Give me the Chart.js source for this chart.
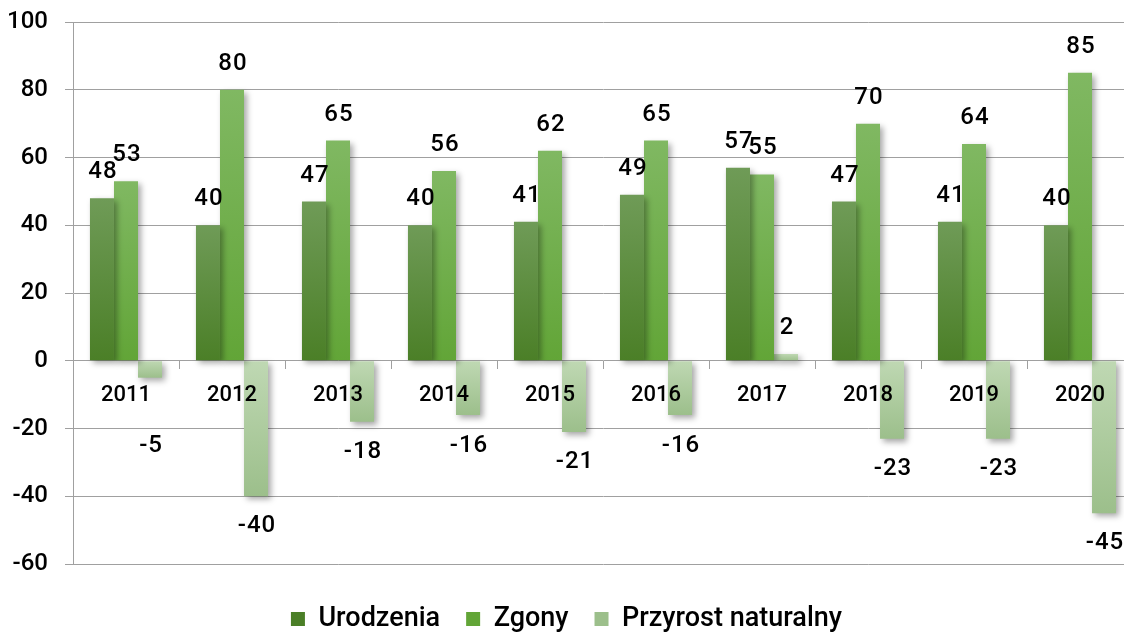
<!DOCTYPE html>
<html>
<head>
<meta charset="utf-8">
<script src="https://cdn.jsdelivr.net/npm/chart.js@4/dist/chart.umd.min.js"></script>
<style>
  html, body { margin: 0; padding: 0; background: #fff; overflow: hidden; }
  #wrap { width: 1140px; height: 632px; }
</style>
</head>
<body>
<div id="wrap"><canvas id="chart"></canvas></div>
<script>
const years = ['2011', '2012', '2013', '2014', '2015', '2016', '2017', '2018', '2019', '2020'];
const urodzenia = [48, 40, 47, 40, 41, 49, 57, 47, 41, 40];
const zgony = [53, 80, 65, 56, 62, 65, 55, 70, 64, 85];
const przyrost = [-5, -40, -18, -16, -21, -16, 2, -23, -23, -45];
const yTicks = [100, 80, 60, 40, 20, 0, -20, -40, -60];

const font = "Roboto, 'Liberation Sans', sans-serif";
const gridColor = '#a0a0a0';

// vertical gradient per bar, from the zero line to the bar end
function barFill(light, dark, flat) {
    return function (ctx) {
        if (ctx.type !== 'data' || !ctx.chart.chartArea) return flat;
        const y = ctx.chart.scales.y;
        const y0 = y.getPixelForValue(0);
        const y1 = y.getPixelForValue(ctx.parsed.y);
        if (Math.abs(y1 - y0) < 1) return flat;
        const g = ctx.chart.ctx.createLinearGradient(0, Math.min(y0, y1), 0, Math.max(y0, y1));
        g.addColorStop(0, light);
        g.addColorStop(1, dark);
        return g;
    };
}

const shadowPlugin = {
    id: 'barShadow',
    beforeDatasetsDraw(chart) {
        const c = chart.ctx;
        c.save();
        c.shadowColor = 'rgba(0,0,0,0.35)';
        c.shadowBlur = 6;
        c.shadowOffsetX = 3;
        c.shadowOffsetY = 3;
    },
    afterDatasetsDraw(chart) {
        chart.ctx.restore();
    }
};

// push the legend down a bit, like the original
const legendShift = {
    id: 'legendShift',
    afterLayout(chart) {
        const lg = chart.legend;
        if (!lg) return;
        const dy = 611 - (lg.top + lg.height / 2);
        lg.top += dy;
        lg.bottom += dy;
    }
};

const valueLabels = {
    id: 'valueLabels',
    afterDraw(chart) {
        const c = chart.ctx;
        const zero = chart.scales.y.getPixelForValue(0);
        c.save();
        c.font = '500 24px ' + font;
        c.fillStyle = '#000';
        c.textAlign = 'center';
        c.textBaseline = 'middle';
        c.letterSpacing = '1px';
        chart.data.datasets.forEach((ds, i) => {
            chart.getDatasetMeta(i).data.forEach((bar, j) => {
                const v = ds.data[j];
                let ty;
                if (v >= 0) ty = bar.y - 26;
                else ty = Math.max(bar.y + 30, zero + 85); // keep clear of year labels
                c.fillText(String(v), bar.x + 1, ty);
            });
        });
        c.restore();
    }
};

new Chart(document.getElementById('chart'), {
    type: 'bar',
    data: {
        labels: years,
        datasets: [
            {
                label: 'Urodzenia',
                data: urodzenia,
                backgroundColor: barFill('#6f9b57', '#4b7f27', '#5d8c3e')
            },
            {
                label: 'Zgony',
                data: zgony,
                backgroundColor: barFill('#80b862', '#62a537', '#70ae4b')
            },
            {
                label: 'Przyrost naturalny',
                data: przyrost,
                backgroundColor: barFill('#bfd8b3', '#9cbf8b', '#b3d0a4')
            }
        ]
    },
    options: {
        responsive: true,
        maintainAspectRatio: false,
        animation: false,
        layout: { padding: { top: 0, right: 7, bottom: 5 } },
        datasets: {
            bar: { barPercentage: 1, categoryPercentage: 0.68 }
        },
        scales: {
            x: {
                position: { y: 0 },
                border: { display: false },
                grid: {
                    drawOnChartArea: false,
                    drawTicks: true,
                    tickLength: 8,
                    color: gridColor,
                    offset: true
                },
                ticks: {
                    z: 1,
                    color: '#000',
                    padding: 14,
                    font: { family: font, size: 22, weight: '500' }
                }
            },
            y: {
                min: -60,
                max: 100,
                afterFit(scale) {
                    scale.width = 73;
                    scale.paddingTop = 22;
                },
                afterBuildTicks(scale) { scale.ticks = yTicks.map(v => ({ value: v })); },
                border: { color: gridColor, width: 1 },
                grid: { color: gridColor, tickLength: 8, lineWidth: 1 },
                ticks: {
                    color: '#000',
                    padding: 17,
                    font: { family: font, size: 24, weight: '500' }
                }
            }
        },
        plugins: {
            legend: {
                position: 'bottom',
                labels: {
                    color: '#000',
                    boxWidth: 14,
                    boxHeight: 14,
                    padding: 26,
                    font: { family: font, size: 27, weight: '500' }
                }
            },
            tooltip: { enabled: false }
        }
    },
    plugins: [shadowPlugin, legendShift, valueLabels]
});
</script>
</body>
</html>
